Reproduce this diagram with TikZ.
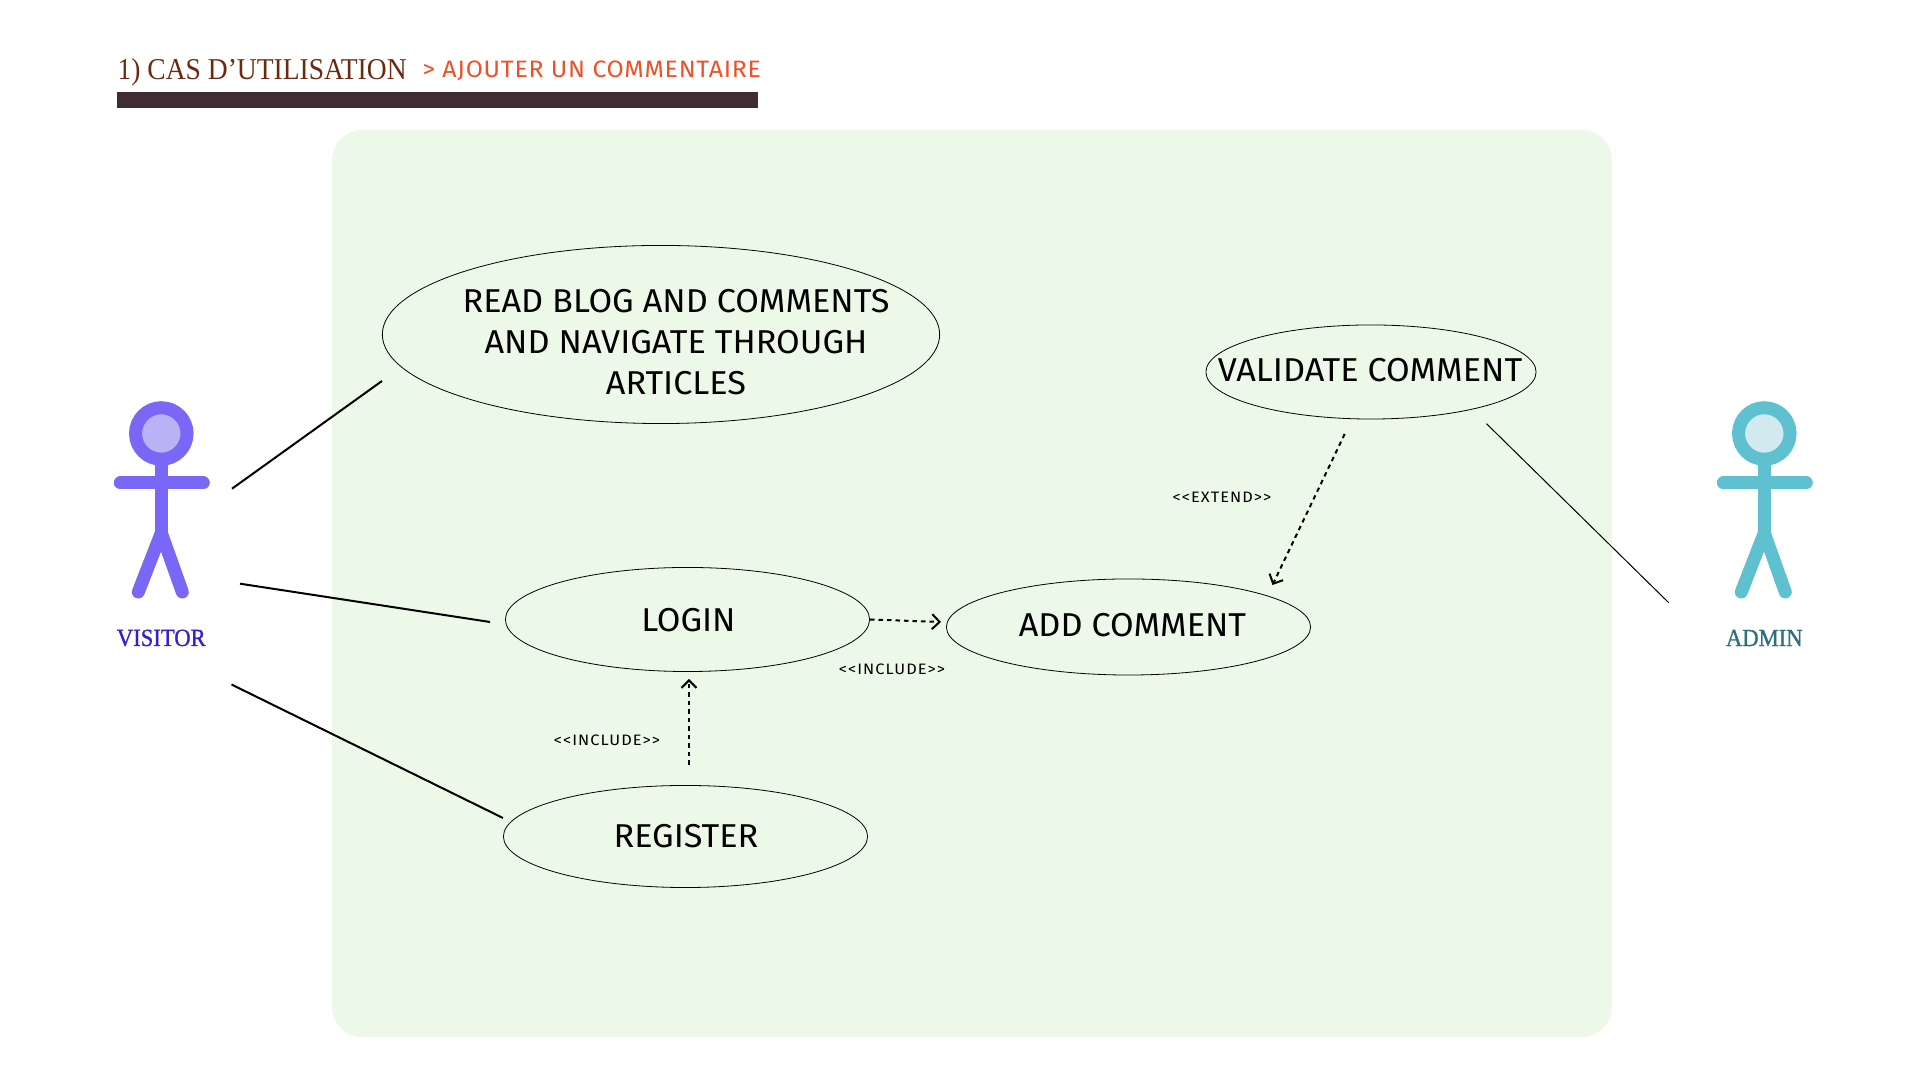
\documentclass[tikz,border=0pt]{standalone}
\usepackage{fontspec}
\setmainfont{Liberation Serif}
\newfontfamily\titlefont[FakeStretch=.91]{Liberation Serif}
\newfontfamily\actorfont[FakeStretch=.92,FakeBold=1]{Liberation Serif}
\newfontfamily\casefont[FakeStretch=1.035]{Fira Sans}
\newfontfamily\subfont[FakeStretch=1.05,LetterSpace=3]{Fira Sans}
\newfontfamily\tinyfont[FakeStretch=1.08,LetterSpace=7]{Fira Sans}
\usetikzlibrary{shapes}
\usetikzlibrary{positioning}
\usetikzlibrary{arrows.meta}
\definecolor{casegreen}{HTML}{EDF9E8}
\definecolor{titlebrown}{HTML}{6B2A0E}
\definecolor{titlered}{HTML}{EE5028}
\definecolor{barcolor}{HTML}{402D32}
\definecolor{visitorblue}{HTML}{7868F5}
\definecolor{visitorlight}{HTML}{BBB2F5}
\definecolor{visitortext}{HTML}{3322CC}
\definecolor{admincyan}{HTML}{5FC1D0}
\definecolor{adminlight}{HTML}{D0EAF0}
\definecolor{admintext}{HTML}{2B707C}
\tikzset{
  usecase/.style={draw=black,ellipse,line width=.008cm,inner sep=0},
  casetext/.style={font=\casefont\fontsize{9.4}{11.66}\selectfont,align=center,inner sep=0},
  tinytext/.style={font=\tinyfont\fontsize{4.3}{5}\selectfont,inner sep=0},
  actortext/.style={font=\actorfont\fontsize{7}{8}\selectfont,inner sep=0},
  assoc/.style={line width=.02cm},
  thinassoc/.style={line width=.01cm},
  dep/.style={->,line width=.02cm,dash pattern=on .045cm off .04cm,>={Straight Barb[length=.075cm,width=.15cm]}},
}
\newcommand{\stickfig}[4]{%
\begin{scope}[shift={(#1,0)},line width=.13cm,line cap=round,draw=#2]
\draw (0,483)++(-41,0)--++(83,0);
\draw[line cap=butt] (0,460)--(0,533);
\draw (0,533)--(-23,592);
\draw (0,533)--(21,592);
\node[circle,draw=#2,fill=#3,minimum size=.515cm,inner sep=0] (#4) at (0,433.5) {};
\end{scope}}
\begin{document}
\begin{tikzpicture}[x=.01cm,y=-.01cm]
\useasboundingbox (0,0) rectangle (1920,1080);
\fill[casegreen,rounded corners=.3cm] (332,130) rectangle (1612,1037);
% title
\node[anchor=base west,inner sep=0,text=titlebrown,font=\titlefont\fontsize{8.6}{10}\selectfont] (title) at (117,80) {1) CAS D’UTILISATION};
\node[anchor=base west,inner sep=0,text=titlered,font=\subfont\fontsize{6.75}{8}\selectfont] (subtitle) at (422,78) {> AJOUTER UN COMMENTAIRE};
\fill[barcolor] (117,92) rectangle (758,108);
% actors
\stickfig{161.3}{visitorblue}{visitorlight}{visitorhead}
\stickfig{1764.3}{admincyan}{adminlight}{adminhead}
\node[actortext,text=visitortext] (visitor) at (161.3,638) {VISITOR};
\node[actortext,text=admintext] (admin) at (1764.3,638) {ADMIN};
% use cases
\node[usecase,minimum width=5.57cm,minimum height=1.78cm] (read) at (661,334.5) {};
\node[casetext] (readtext) at (676,342.5) {READ BLOG AND COMMENTS\\AND NAVIGATE THROUGH\\ARTICLES};
\node[usecase,minimum width=3.3cm,minimum height=.94cm] (validate) at (1371,372) {};
\node[casetext] (validatetext) at (1370,370.5) {VALIDATE COMMENT};
\node[usecase,minimum width=3.64cm,minimum height=1.04cm] (login) at (687.5,619.5) {};
\node[casetext] (logintext) at (688.5,620.5) {LOGIN};
\node[usecase,minimum width=3.64cm,minimum height=.96cm] (add) at (1128.5,627) {};
\node[casetext] (addtext) at (1132.5,625.5) {ADD COMMENT};
\node[usecase,minimum width=3.64cm,minimum height=1.02cm] (register) at (685.5,836.5) {};
\node[casetext] (registertext) at (686,836.5) {REGISTER};
% free ends of the lines
\coordinate (va) at (232,488.7);
\coordinate (vb) at (240,583.7);
\coordinate (vc) at (231.5,684.5);
\coordinate (ra) at (382,381);
\coordinate (la) at (490,622);
\coordinate (ga) at (503,818);
\coordinate (aa) at (1668.7,602.7);
\coordinate (ca) at (1486.5,423.7);
\draw[assoc] (va)--(ra);
\draw[assoc] (vb)--(la);
\draw[assoc] (vc)--(ga);
\draw[thinassoc] (ca)--(aa);
% dependencies
\coordinate (lb) at (870,619.5);
\coordinate (ab) at (941,622);
\coordinate (cb) at (1344.7,434);
\coordinate (ac) at (1272.5,585);
\coordinate (gb) at (689,764.7);
\coordinate (lc) at (689,679);
\draw[dep] (lb)--(ab);
\draw[dep] (cb)--(ac);
\draw[dep] (gb)--(lc);
\node[tinytext] (inca) at (892,669.2) {<{}<INCLUDE>{}>};
\node[tinytext] (incb) at (607,740.2) {<{}<INCLUDE>{}>};
\node[tinytext] (ext) at (1222,497.7) {<{}<EXTEND>{}>};
\end{tikzpicture}
\end{document}
